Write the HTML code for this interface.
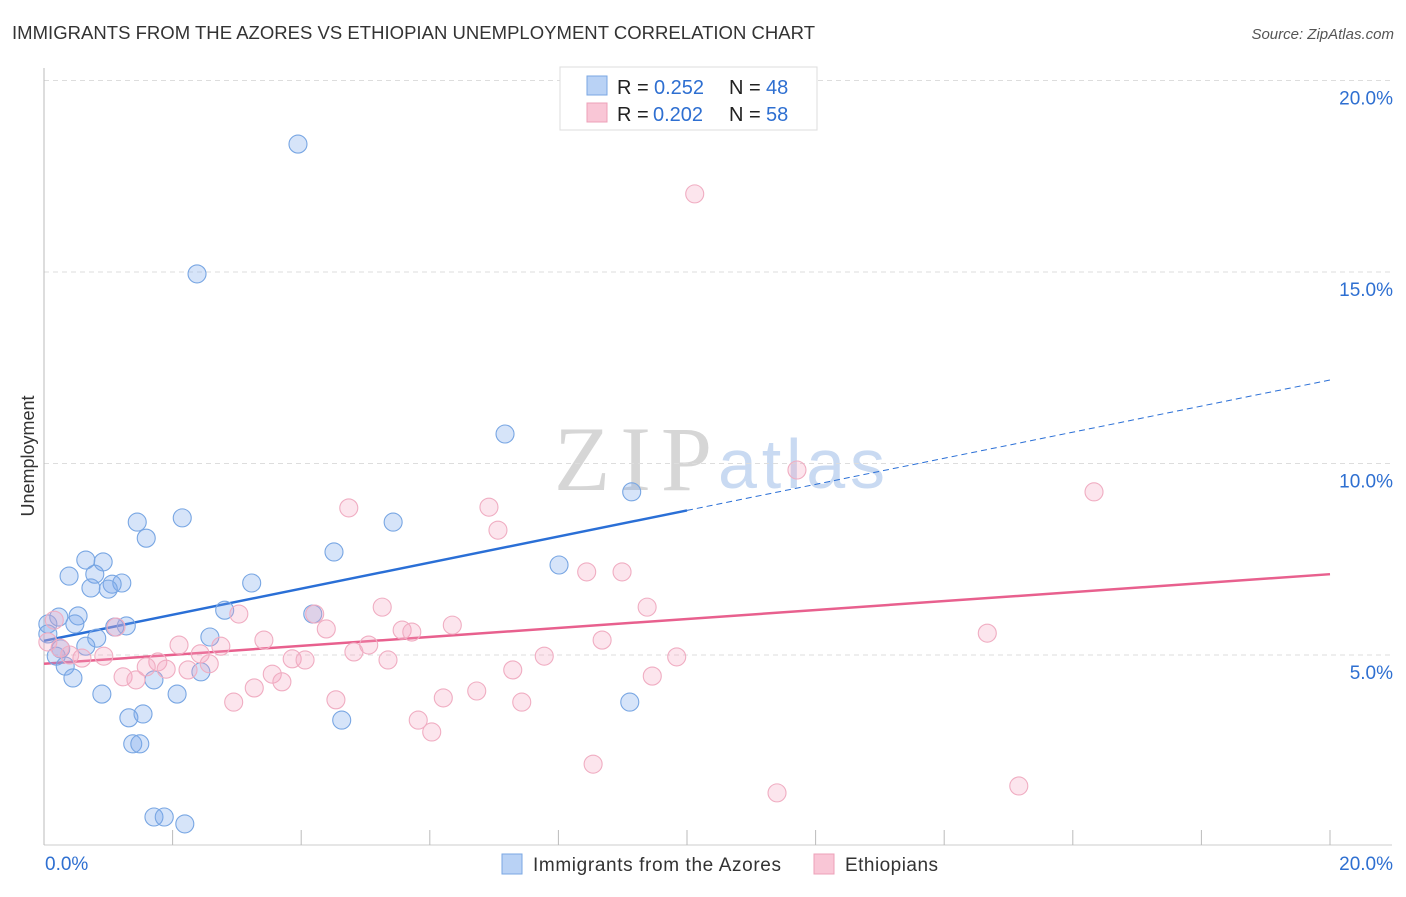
<!DOCTYPE html>
<html><head><meta charset="utf-8"><style>
body{margin:0;background:#fff;font-family:"Liberation Sans",sans-serif;}
svg text{font-family:"Liberation Sans",sans-serif;}
</style></head><body>
<svg id="chart" width="1406" height="892" xmlns="http://www.w3.org/2000/svg">
<text x="12" y="39" font-size="18.5" fill="#333" textLength="803">IMMIGRANTS FROM THE AZORES VS ETHIOPIAN UNEMPLOYMENT CORRELATION CHART</text>
<text x="1394" y="39" font-size="15" fill="#555" font-style="italic" text-anchor="end">Source: ZipAtlas.com</text>
<text x="0" y="0" transform="translate(34,456) rotate(-90)" font-size="18" fill="#333" text-anchor="middle">Unemployment</text>
<g>
<text x="554" y="490" font-size="92" fill="#d6d6d6" textLength="158" style="font-family:'Liberation Serif',serif">ZIP</text>
<text x="718" y="488" font-size="70" fill="#c9daf2" textLength="167">atlas</text>
</g>
<g id="grid"></g><g id="axes"></g><g id="trend"></g><g id="pts"></g>
<g>
<rect x="560" y="67" width="257" height="63" fill="#fff" stroke="#ddd"/>
<rect x="587" y="76" width="20" height="19" fill="#b9d2f5" stroke="#7aa7e3"/>
<rect x="587" y="103" width="20" height="19" fill="#f9c6d6" stroke="#eda0b8"/>
<g font-size="20">
<text x="617" y="94" fill="#222">R =</text><text x="654" y="94" fill="#2e6fd1">0.252</text>
<text x="729" y="94" fill="#222">N =</text><text x="766" y="94" fill="#2e6fd1">48</text></g>
<g font-size="20">
<text x="617" y="121" fill="#222">R =</text><text x="653" y="121" fill="#2e6fd1">0.202</text>
<text x="729" y="121" fill="#222">N =</text><text x="766" y="121" fill="#2e6fd1">58</text></g>
</g>
<g>
<rect x="502" y="854" width="20" height="20" fill="#b9d2f5" stroke="#7aa7e3"/>
<text x="533" y="871" font-size="19" fill="#333" textLength="248">Immigrants from the Azores</text>
<rect x="814" y="854" width="20" height="20" fill="#f9c6d6" stroke="#eda0b8"/>
<text x="845" y="871" font-size="19" fill="#333" textLength="93">Ethiopians</text>
</g>
</svg>
<script>
const yTicks=[5,10,15,20];
const yTickLabels=["5.0%","10.0%","15.0%","20.0%"];
const xTickLabels=["0.0%","20.0%"];
const azoresX=[3.95,2.38,7.17,9.14,2.15,1.45,5.43,1.59,4.51,8.01,0.65,0.92,0.39,0.79,1.21,1.06,0.73,1.00,3.23,0.23,0.53,2.81,4.18,0.06,0.48,1.10,1.28,0.06,2.58,0.82,0.65,0.26,0.19,0.33,1.71,0.45,2.44,0.90,2.07,9.11,1.32,1.54,4.63,1.38,1.49,1.71,1.87,2.19];
const azoresY=[18.34,14.95,10.77,9.26,8.58,8.47,8.47,8.05,7.69,7.35,7.48,7.43,7.06,7.11,6.88,6.85,6.75,6.72,6.88,5.99,6.02,6.17,6.07,5.81,5.81,5.73,5.76,5.55,5.47,5.44,5.23,5.16,4.97,4.71,4.35,4.40,4.56,3.98,3.98,3.77,3.36,3.46,3.30,2.68,2.68,0.77,0.77,0.59];
const ethX=[10.12,11.71,16.33,4.74,6.92,7.06,8.44,8.99,9.38,5.26,3.03,4.21,0.16,1.12,4.39,6.35,5.57,5.72,8.68,14.67,3.42,2.10,2.75,5.05,0.25,7.78,4.82,2.43,9.84,0.93,0.59,3.86,4.06,5.35,0.06,1.77,2.57,1.59,1.90,2.24,3.55,7.29,9.46,1.23,1.43,3.70,3.27,6.73,6.21,4.54,2.95,7.43,5.82,6.03,8.54,11.40,15.16,0.40];
const ethY=[17.04,9.83,9.26,8.84,8.86,8.26,7.17,7.17,6.25,6.25,6.07,6.07,5.91,5.73,5.68,5.78,5.65,5.60,5.39,5.57,5.39,5.26,5.23,5.26,5.18,4.97,5.08,5.03,4.95,4.97,4.92,4.90,4.87,4.87,5.34,4.82,4.77,4.69,4.63,4.61,4.50,4.61,4.45,4.43,4.35,4.30,4.14,4.06,3.88,3.83,3.77,3.77,3.30,2.99,2.15,1.40,1.58,5.00];
const azoresTrend=[5.37,12.18];
const ethTrend=[4.77,7.11];
const NS="http://www.w3.org/2000/svg";
const X=v=>44+v*64.3, Y=v=>846.5-v*38.3;
function mk(t,a,p){const e=document.createElementNS(NS,t);for(const k in a)e.setAttribute(k,a[k]);p.appendChild(e);return e;}
const grid=document.getElementById('grid'),axes=document.getElementById('axes'),tr=document.getElementById('trend'),pts=document.getElementById('pts');
yTicks.forEach((t,i)=>{
 const l=mk('line',{x1:44,x2:1392,y1:Y(t),y2:Y(t),stroke:'#ddd','stroke-dasharray':'5,4'},grid);
 
 
 const tx=mk('text',{x:1393,y:Y(t)+24,'font-size':19,fill:'#2e6fd1','text-anchor':'end'},axes);
 tx.textContent=yTickLabels[i];
 
 
});
let a=mk('line',{x1:44,x2:44,y1:68,y2:845,stroke:'#bbb'},axes);


a=mk('line',{x1:44,x2:1392,y1:845,y2:845,stroke:'#ccc'},axes);


for(let i=0;i<=10;i++){const t=mk('line',{x1:X(i*2),x2:X(i*2),y1:830,y2:845,stroke:'#bbb'},axes);
 
 }
[[0,'start',45],[20,'end',1393]].forEach((d,i)=>{const tx=mk('text',{x:d[2],y:870,'font-size':19,fill:'#2e6fd1','text-anchor':d[1]},axes);tx.textContent=xTickLabels[i];
 
 });
function drawPts(xs,ys,fill,stroke,name){xs.forEach((x,i)=>{const c=mk('circle',{cx:X(x),cy:Y(ys[i]),r:9,fill:fill,stroke:stroke,'stroke-width':1.1},pts);
 
 });}
drawPts(azoresX,azoresY,'rgba(120,165,235,0.3)','#78a6e3','azores-point');
drawPts(ethX,ethY,'rgba(245,160,190,0.28)','#f0adc2','ethiopians-point');
const yAt=(t,x)=>t[0]+(t[1]-t[0])*x/20;
let l=mk('line',{x1:X(0),y1:Y(yAt(azoresTrend,0)),x2:X(10),y2:Y(yAt(azoresTrend,10)),stroke:'#2a6fd6','stroke-width':2.5},tr);


l=mk('line',{x1:X(10),y1:Y(yAt(azoresTrend,10)),x2:X(20),y2:Y(yAt(azoresTrend,20)),stroke:'#2a6fd6','stroke-width':1,'stroke-dasharray':'6,4'},tr);


l=mk('line',{x1:X(0),y1:Y(ethTrend[0]),x2:X(20),y2:Y(ethTrend[1]),stroke:'#e8608e','stroke-width':2.5},tr);


</script>
</body></html>
